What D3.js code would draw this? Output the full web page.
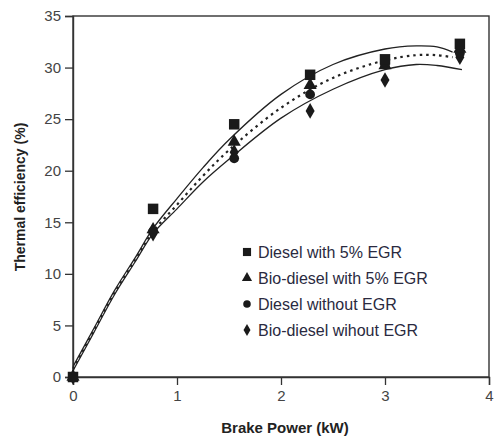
<!DOCTYPE html>
<html>
<head>
<meta charset="utf-8">
<script src="https://cdn.jsdelivr.net/npm/d3@7"></script>
<style>
  body { margin: 0; background: #fff; }
  svg { font-family: "Liberation Sans", Arial, sans-serif; }
</style>
</head>
<body>
<script>
const width = 495
const height = 441
const margin = {top: 16, right: 6, bottom: 64, left: 73}

// measured loads (kW)
const power = [0, 0.77, 1.55, 2.28, 3, 3.72]

// thermal efficiency (%) per fuel
const dieselEgr = [0, 16.3, 24.5, 29.3, 30.8, 32.3]
const bioEgr = [0, 14.3, 22.8, 28.3, 30.2, 31.8]
const dieselNoEgr = [0, 14.1, 21.2, 27.4, 30.3, 31.4]
const bioNoEgr = [0, 13.9, 21.8, 25.8, 28.8, 31.0]

// trend lines
const fitX = [0, 0.2, 0.4, 0.6, 0.77, 1, 1.25, 1.5, 2, 2.5, 3, 3.3, 3.5, 3.65]
const fitUpper = [1.0, 4.7, 8.4, 11.6, 14.4, 17.3, 20.3, 23.0, 27.4, 30.3, 31.8, 32.1, 32.0, 31.5]
const fitMiddle = [0.8, 4.5, 8.2, 11.4, 14.1, 16.7, 19.5, 22.0, 26.1, 29.0, 30.7, 31.2, 31.2, 31.0]
const fitLowerX = [0, 0.2, 0.4, 0.6, 0.77, 1, 1.25, 1.5, 2, 2.5, 3, 3.3, 3.5, 3.74]
const fitLower = [0.6, 4.3, 8.0, 11.2, 13.9, 16.3, 18.9, 21.1, 25.1, 27.9, 29.8, 30.3, 30.2, 29.8]

const legendLabels = ['Diesel with 5% EGR', 'Bio-diesel with 5% EGR', 'Diesel without EGR', 'Bio-diesel wihout EGR']
const xTicks = [0, 1, 2, 3, 4]
const yTicks = [0, 5, 10, 15, 20, 25, 30, 35]

const x = d3.scaleLinear().domain([0, 4]).range([margin.left, width - margin.right])
const y = d3.scaleLinear().domain([0, 35]).range([height - margin.bottom, margin.top])

const svg = d3.select('body').append('svg').attr('width', width).attr('height', height)

// frame
svg.append('rect')
  .attr('x', x(0)).attr('y', y(35))
  .attr('width', x(4) - x(0)).attr('height', y(0) - y(35))
  .attr('fill', 'none').attr('stroke', '#333').attr('stroke-width', 1.4)

const xAxis = svg.append('g')
  .attr('transform', `translate(0,${y(0)})`)
  .call(d3.axisBottom(x).tickValues(xTicks).tickFormat(d3.format('d')).tickSize(8).tickPadding(5))
const yAxis = svg.append('g')
  .attr('transform', `translate(${x(0)},0)`)
  .call(d3.axisLeft(y).tickValues(yTicks).tickSize(8).tickPadding(4))

for (const ax of [xAxis, yAxis]) {
  ax.select('.domain').attr('stroke', '#333').attr('stroke-width', 1.4)
  ax.selectAll('.tick line').attr('stroke', '#333').attr('stroke-width', 1.3)
  ax.selectAll('.tick text').attr('fill', '#444').style('font-size', '15px').style('font-family', '"Liberation Sans", Arial, sans-serif')
}

// axis titles
svg.append('text')
  .attr('x', 285).attr('y', 433)
  .attr('text-anchor', 'middle')
  .style('font-size', '15px').style('font-weight', 'bold').attr('fill', '#222')
  .text('Brake Power (kW)')

svg.append('text')
  .attr('transform', `translate(25,197) rotate(-90)`)
  .attr('text-anchor', 'middle')
  .style('font-size', '14px').style('font-weight', 'bold').attr('fill', '#222')
  .text('Thermal efficiency (%)')

// trend lines
const line = d3.line().curve(d3.curveCatmullRom.alpha(0.5))
const fits = [
  {xs: fitX, ys: fitUpper, dash: null, w: 1.3},
  {xs: fitX, ys: fitMiddle, dash: '2.5,4', w: 2.2},
  {xs: fitLowerX, ys: fitLower, dash: null, w: 1.3}
]
svg.selectAll('path.fit')
  .data(fits)
  .join('path')
  .attr('class', 'fit')
  .attr('d', d => line(d.xs.map((v, i) => [x(v), y(d.ys[i])])))
  .attr('fill', 'none')
  .attr('stroke', '#222')
  .attr('stroke-width', d => d.w)
  .attr('stroke-dasharray', d => d.dash)

// markers
const series = [
  {vals: dieselEgr, sym: d3.symbolSquare, size: 110},
  {vals: bioEgr, sym: d3.symbolTriangle, size: 75},
  {vals: dieselNoEgr, sym: d3.symbolCircle, size: 75},
  {vals: bioNoEgr, sym: d3.symbolDiamond, size: 70}
]

// draw the last series first so squares sit on top
series.slice().reverse().forEach(s => {
  svg.append('g')
    .selectAll('path')
    .data(power.map((p, i) => [p, s.vals[i]]))
    .join('path')
    .attr('transform', d => `translate(${x(d[0])},${y(d[1])})`)
    .attr('d', d3.symbol().type(s.sym).size(s.size))
    .attr('fill', '#1a1a1a')
})

// legend
const legend = svg.append('g').attr('transform', 'translate(247,252)')
const rows = legend.selectAll('g')
  .data(legendLabels)
  .join('g')
  .attr('transform', (d, i) => `translate(0,${i * 26})`)
rows.append('path')
  .attr('d', (d, i) => d3.symbol().type(series[i].sym).size(series[i].size * 0.6)())
  .attr('fill', '#1a1a1a')
rows.append('text')
  .attr('x', 11).attr('y', 5.5)
  .style('font-size', '16px')
  .attr('fill', '#2a2a40')
  .text(d => d)
</script>
</body>
</html>
